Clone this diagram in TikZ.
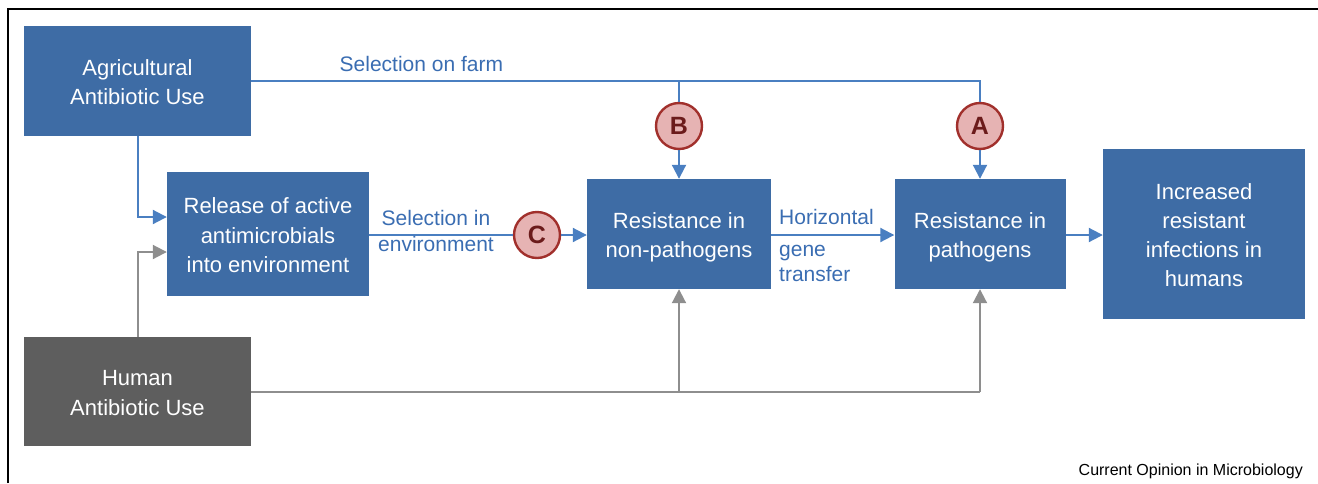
\documentclass[tikz,border=0pt]{standalone}
\usepackage{fontspec}
\setmainfont{Liberation Sans}
\usetikzlibrary{arrows.meta}
\definecolor{boxblue}{HTML}{3E6CA5}
\definecolor{boxgray}{HTML}{5E5E5E}
\definecolor{lineblue}{HTML}{4A7FC1}
\definecolor{linegray}{HTML}{8E8E8E}
\definecolor{txtblue}{HTML}{3A6DB2}
\definecolor{cfill}{HTML}{E6B3B3}
\definecolor{cdraw}{HTML}{A1302C}
\definecolor{cletter}{HTML}{6B1B1B}
\newcommand{\bxstrut}{\rule[-4pt]{0pt}{26pt}}
\tikzset{
  bbox/.style={rectangle, fill=boxblue, text=white, align=center, inner sep=0pt,
    font=\fontsize{22}{29.3}\selectfont},
  gbox/.style={bbox, fill=boxgray},
  badge/.style={circle, fill=cfill, draw=cdraw, line width=2.4pt, minimum size=46pt,
    inner sep=0pt, text=cletter, font=\fontsize{25}{25}\selectfont\bfseries},
  bline/.style={draw=lineblue, line width=2pt},
  gline/.style={draw=linegray, line width=2pt},
  barrow/.style={bline, -{Triangle[length=14pt,width=14pt]}},
  garrow/.style={gline, -{Triangle[length=14pt,width=14pt]}},
  lbl/.style={text=txtblue, inner sep=0pt, font=\fontsize{21}{26}\selectfont},
}
\begin{document}
\begin{tikzpicture}[x=1pt,y=-1pt]
\useasboundingbox (0,0) rectangle (1318,483);
\draw[line width=1.3pt, black] (8,483) -- (8,9) -- (1318,9);

\node[bbox, minimum width=227pt, minimum height=110pt] (agri) at (137.5,81) {\bxstrut Agricultural\\Antibiotic Use\bxstrut};
\node[gbox, minimum width=227pt, minimum height=109pt] (human) at (137.5,391.5) {\bxstrut Human\\Antibiotic Use\bxstrut};
\node[bbox, minimum width=202pt, minimum height=124pt] (release) at (268,234) {\bxstrut Release of active\\antimicrobials\\into environment\bxstrut};
\node[bbox, minimum width=184pt, minimum height=110pt] (nonpath) at (679,234) {\bxstrut Resistance in\\non-pathogens\bxstrut};
\node[bbox, minimum width=171pt, minimum height=110pt] (path) at (980,234) {\bxstrut Resistance in\\pathogens\bxstrut};
\node[bbox, minimum width=202pt, minimum height=170pt] (inc) at (1204,234) {\bxstrut Increased\\resistant\\infections in\\humans\bxstrut};

\node[badge] (B) at (679,126) {B};
\node[badge] (A) at (980,126) {A};
\node[badge] (C) at (537,235) {C};

\coordinate (fb) at (B |- agri.east);
\coordinate (hb1) at (nonpath.south |- human.east);
\coordinate (hb2) at (path.south |- human.east);

% agricultural connections
\draw[bline] (agri.east) -- (fb) -| (A.north);
\draw[bline] (fb) -- (B.north);
\draw[barrow] (B.south) -- (nonpath.north);
\draw[barrow] (A.south) -- (path.north);
\draw[barrow] (agri.south) |- ([yshift=17pt]release.west);

% human connections
\draw[garrow] (human.north) |- ([yshift=-18pt]release.west);
\draw[gline] (human.east) -- (hb2);
\draw[garrow] (hb1) -- (nonpath.south);
\draw[garrow] (hb2) -- (path.south);

% main chain
\draw[bline] (release.east |- C.west) -- (C.west);
\draw[barrow] (C.east) -- (nonpath.west |- C.east);
\draw[barrow] (nonpath.east |- C.east) -- (path.west |- C.east);
\draw[barrow] (path.east |- C.east) -- (inc.west |- C.east);

% labels
\node[lbl, anchor=base west] (lfarm) at (339.5,71) {Selection on farm};
\node[lbl, align=center, anchor=base] (lenv) at (436,251.5) {Selection in\\environment};
\node[lbl, anchor=base west] (lhor) at (779,224) {Horizontal};
\node[lbl, anchor=base west, align=left, font=\fontsize{21}{25.7}\selectfont] (lgene) at (779,281.7) {gene\\transfer};

\node[anchor=base east, inner sep=0pt, font=\fontsize{16}{18}\selectfont] (credit) at (1303,475) {Current Opinion in Microbiology};
\end{tikzpicture}
\end{document}
